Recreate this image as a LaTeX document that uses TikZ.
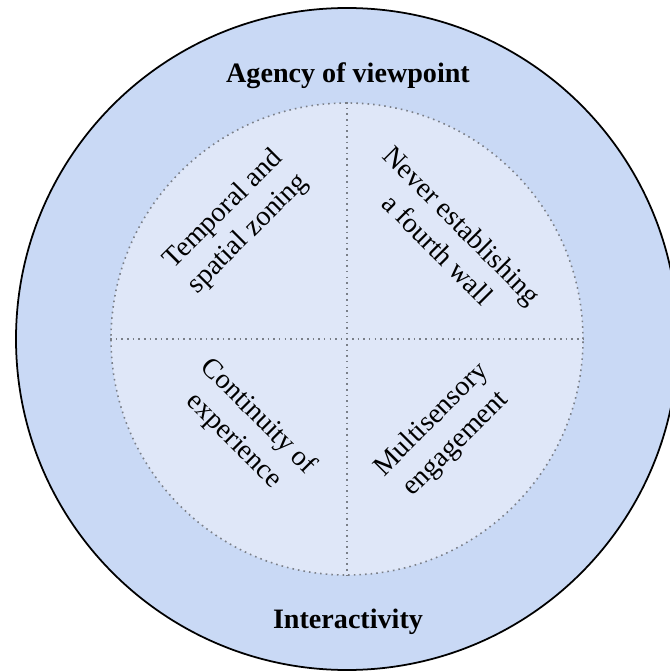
\documentclass[tikz,border=0pt]{standalone}
\usepackage{fontspec}
\setmainfont{Liberation Serif}
\definecolor{outerblue}{HTML}{C9D9F5}
\definecolor{innerblue}{HTML}{DFE7F8}
\definecolor{dotgray}{HTML}{7A7F88}
\begin{document}
\begin{tikzpicture}[
  quad/.style={align=center, font=\fontsize{16}{19.5}\selectfont},
  ring/.style={anchor=base, font=\bfseries\fontsize{16}{19.5}\selectfont},
  sep/.style={draw=dotgray, line width=0.9pt, dash pattern=on 0.9pt off 2.3pt}]
\useasboundingbox (-6.94,-6.64) rectangle (6.46,6.78);
\node[draw, circle, fill=outerblue, line width=1pt, minimum size=13.24cm, inner sep=0pt] (outer) at (0,0) {};
\node[sep, circle, fill=innerblue, minimum size=9.44cm, inner sep=0pt] (inner) at (0,0) {};
\draw[sep] (inner.north) -- (inner.south);
\draw[sep] (inner.west) -- (inner.east);

\node[ring] (agency) at (0.02,5.12) {Agency of viewpoint};
\node[ring] (interact) at (0.02,-5.78) {Interactivity};

\node[quad, rotate=45] (zoning) at (-2.22,2.34) {Temporal and\\spatial zoning};
\node[quad, rotate=-45] (wall) at (2.06,2.04) {Never establishing\\a fourth wall};
\node[quad, rotate=-45] (continuity) at (-2.02,-1.8) {Continuity of\\experience};
\node[quad, rotate=45] (senses) at (1.94,-1.86) {Multisensory\\engagement};
\end{tikzpicture}
\end{document}
